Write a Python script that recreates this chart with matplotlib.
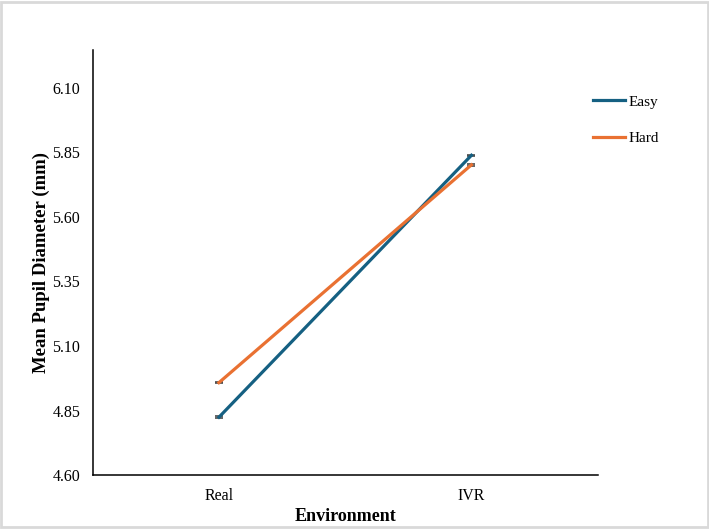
import matplotlib
matplotlib.use("Agg")
import matplotlib.pyplot as plt
from matplotlib.patches import Rectangle
from matplotlib.lines import Line2D

# data
environments = ["Real", "IVR"]
easy_means = [4.824, 5.839]
hard_means = [4.958, 5.802]
y_ticks = [4.60, 4.85, 5.10, 5.35, 5.60, 5.85, 6.10]

plt.rcParams['font.family'] = ['Liberation Serif', 'DejaVu Serif']

fig = plt.figure(figsize=(7.09, 5.29), dpi=100)
ax = fig.add_axes([0.1307, 0.102, 0.843 - 0.1307, 0.9055 - 0.102])

x = list(range(len(environments)))
blue = "#156082"
orange = "#E97132"

ax.errorbar(x, easy_means, yerr=0.003, color=blue, lw=2.3, ecolor="#4a4a4a",
            elinewidth=1, capsize=3, capthick=1.2, label="Easy")
ax.errorbar(x, hard_means, yerr=0.003, color=orange, lw=2.3, ecolor="#4a4a4a",
            elinewidth=1, capsize=3, capthick=1.2, label="Hard")

ax.set_xlim(-0.5, 1.5)
ax.set_ylim(4.60, 6.247)
ax.set_yticks(y_ticks)
ax.set_yticklabels([f"{v:.2f}" for v in y_ticks])
ax.set_xticks(x)
ax.set_xticklabels(environments)
ax.tick_params(axis='both', length=0, labelsize=11.5)
ax.tick_params(axis='y', pad=9)
ax.tick_params(axis='x', pad=9)

for side in ['top', 'right']:
    ax.spines[side].set_visible(False)
for side in ['left', 'bottom']:
    ax.spines[side].set_linewidth(1.1)

ax.set_xlabel("Environment", fontsize=13, fontweight='bold', labelpad=3.5)
ax.set_ylabel("Mean Pupil Diameter (mm)", fontsize=13.5, fontweight='bold', labelpad=1.5)

# legend, no error caps in handles
handles = [Line2D([], [], color=blue, lw=2.3), Line2D([], [], color=orange, lw=2.3)]
fig.legend(handles, ["Easy", "Hard"], loc='upper left',
           bbox_to_anchor=(593 / 709, 1 - 95 / 529), frameon=False,
           fontsize=11, borderpad=0, borderaxespad=0, handlelength=2.1,
           handletextpad=0.2, labelspacing=1.5)

fig.patches.append(Rectangle((0.002, 0.003), 0.996, 0.994, transform=fig.transFigure,
                             fill=False, edgecolor="#d9d9d9", lw=2))

fig.savefig("out.png", dpi=100)
